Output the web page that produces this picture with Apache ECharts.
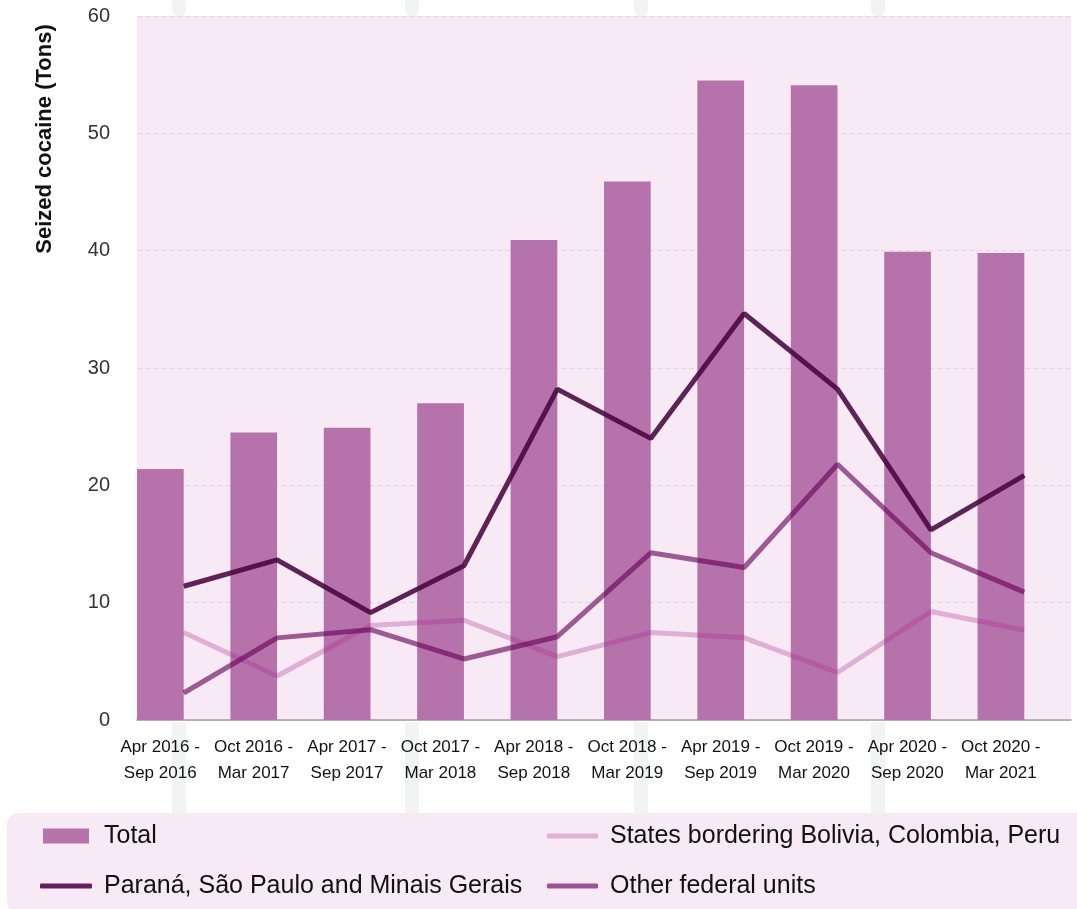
<!DOCTYPE html>
<html>
<head>
<meta charset="utf-8">
<script src="https://cdn.jsdelivr.net/npm/echarts@6/dist/echarts.min.js"></script>
<style>
  html, body { margin: 0; padding: 0; background: #ffffff; }
  #chart { width: 1077px; height: 909px; }
</style>
</head>
<body>
<div id="chart"></div>
<script>
const categories = [
  'Apr 2016 -\nSep 2016', 'Oct 2016 -\nMar 2017', 'Apr 2017 -\nSep 2017', 'Oct 2017 -\nMar 2018',
  'Apr 2018 -\nSep 2018', 'Oct 2018 -\nMar 2019', 'Apr 2019 -\nSep 2019', 'Oct 2019 -\nMar 2020',
  'Apr 2020 -\nSep 2020', 'Oct 2020 -\nMar 2021'
];
const totalValues = [21.4, 24.5, 24.9, 27.0, 40.9, 45.9, 54.5, 54.1, 39.9, 39.8];
const paranaValues = [11.4, 13.65, 9.15, 13.15, 28.2, 24.0, 34.65, 28.2, 16.2, 20.85];
const borderingValues = [7.45, 3.75, 8.05, 8.5, 5.4, 7.45, 7.0, 4.05, 9.25, 7.65];
const otherValues = [2.3, 7.0, 7.7, 5.2, 7.1, 14.25, 13.0, 21.8, 14.25, 10.9];
const yTicks = [0, 10, 20, 30, 40, 50, 60];

const seriesNames = {
  total: 'Total',
  bordering: 'States bordering Bolivia, Colombia, Peru',
  parana: 'Paraná, São Paulo and Minais Gerais',
  other: 'Other federal units'
};

const C = {
  bg: '#f8eaf4',
  bar: '#b672ab',
  parana: 'rgba(72,6,64,0.88)',
  paranaLegend: '#63205d',
  other: 'rgba(104,0,88,0.62)',
  otherLegend: '#9c5293',
  bordering: 'rgba(170,40,143,0.3)',
  borderingLegend: '#e0b0d6'
};

const sans = "'Liberation Sans', Arial, Helvetica, sans-serif";

const chart = echarts.init(document.getElementById('chart'), null, { renderer: 'canvas' });

const stripeXs = [172, 405, 634, 871];
const stripes = [];
stripeXs.forEach(x => {
  stripes.push({ type: 'rect', shape: { x: x, y: -6, width: 14, height: 22, r: 6 }, style: { fill: '#f2f4f3' }, z: -5 });
  stripes.push({ type: 'rect', shape: { x: x, y: 722, width: 14, height: 100 }, style: { fill: '#f2f4f3' }, z: -5 });
});

function legendItem(name, left, top, icon, w, h, color, padLeft) {
  return {
    data: [{ name: name, icon: icon, itemStyle: { color: color, opacity: 1 } }],
    left: left, top: top, padding: 0,
    itemWidth: w, itemHeight: h,
    selectedMode: false,
    textStyle: { fontFamily: sans, fontSize: 25, color: '#111', padding: [0, 0, 0, padLeft], lineHeight: 28 }
  };
}

const option = {
  animation: false,
  backgroundColor: '#ffffff',
  graphic: stripes.concat([
    {
      type: 'rect', z: 0,
      shape: { x: 7, y: 813, width: 1090, height: 100, r: 12 },
      style: { fill: C.bg }
    },
    {
      type: 'text', z: 10,
      x: 45, y: 139, rotation: Math.PI / 2,
      style: {
        text: 'Seized cocaine (Tons)',
        fontFamily: sans, fontWeight: 'bold', fontSize: 22, fill: '#111',
        align: 'center', verticalAlign: 'middle'
      }
    }
  ]),
  legend: [
    legendItem(seriesNames.total, 43, 822, 'rect', 46, 15, C.bar, 10),
    legendItem(seriesNames.bordering, 547, 822, 'roundRect', 51, 5, C.borderingLegend, 7),
    legendItem(seriesNames.parana, 40, 872, 'roundRect', 52, 5, C.paranaLegend, 7),
    legendItem(seriesNames.other, 547, 872, 'roundRect', 51, 5, C.otherLegend, 7)
  ],
  grid: {
    left: 137, right: 6, top: 16, bottom: 189,
    show: true, backgroundColor: C.bg, borderWidth: 0,
    containLabel: false,
    outerBoundsMode: 'none'
  },
  xAxis: {
    type: 'category',
    data: categories,
    boundaryGap: true,
    axisTick: { show: false },
    axisLine: { show: true, lineStyle: { color: '#a39aa1', width: 1.5 } },
    axisLabel: {
      interval: 0,
      margin: 14,
      fontFamily: sans, fontSize: 17, lineHeight: 26, color: '#111',
      padding: [0, 47, 0, 0]
    },
    splitLine: { show: false }
  },
  yAxis: {
    type: 'value',
    min: 0, max: 60, interval: 10,
    axisLine: { show: false },
    axisTick: { show: false },
    axisLabel: {
      margin: 27,
      fontFamily: sans, fontSize: 20, color: '#333',
      formatter: v => (yTicks.indexOf(v) >= 0 ? String(v) : '')
    },
    splitLine: { show: true, lineStyle: { color: '#e3d5df', type: [5, 3], width: 1.2 } }
  },
  series: [
    {
      name: seriesNames.total, type: 'bar', data: totalValues,
      itemStyle: { color: C.bar },
      barGap: '0%', barCategoryGap: '0%', z: 2
    },
    {
      name: '__spacer', type: 'bar', data: totalValues.map(() => null),
      itemStyle: { color: 'transparent' }, barGap: '0%', barCategoryGap: '0%',
      silent: true
    },
    {
      name: seriesNames.bordering, type: 'line', data: borderingValues,
      symbol: 'none', lineStyle: { color: C.bordering, width: 5 }, itemStyle: { color: C.bordering }, z: 3
    },
    {
      name: seriesNames.other, type: 'line', data: otherValues,
      symbol: 'none', lineStyle: { color: C.other, width: 5 }, itemStyle: { color: C.other }, z: 4
    },
    {
      name: seriesNames.parana, type: 'line', data: paranaValues,
      symbol: 'none', lineStyle: { color: C.parana, width: 5 }, itemStyle: { color: C.parana }, z: 5
    }
  ]
};

chart.setOption(option);
</script>
</body>
</html>
